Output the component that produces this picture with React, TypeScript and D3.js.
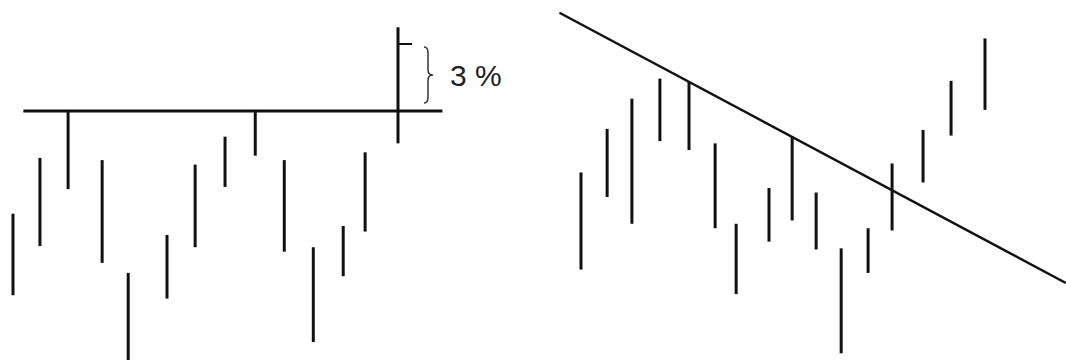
import React, { useEffect, useRef } from 'react';
import * as d3 from 'd3';

// left panel: bars testing a horizontal resistance, then a 3 % breakout
const leftDay = [0, 0.91, 1.86, 3.01, 3.89, 5.2, 6.15, 7.16, 8.18, 9.16, 10.14, 11.15, 11.89, 13];
const leftHigh = [95.4, 97.9, 100.0, 97.8, 92.75, 94.45, 97.6, 98.85, 100.0, 97.8, 93.9, 94.85, 98.15, 103.75];
const leftLow = [91.75, 93.95, 96.5, 93.2, 88.6, 91.6, 93.9, 96.6, 98.0, 93.7, 89.65, 92.6, 94.6, 98.55];
const resistance = 100;
const breakout = 103;
const resistanceSpan = [0.35, 14.5];
const breakLabel = '3 %';

// right panel: bars under a falling trendline, then a break upward
const rightDay = [0, 0.97, 1.89, 2.93, 4.01, 4.98, 5.76, 6.98, 7.84, 8.73, 9.66, 10.66, 11.55, 12.7, 13.74, 15];
const rightHigh = [97.25, 99.2, 100.55, 101.45, 101.3, 98.55, 94.95, 96.55, 98.85, 96.35, 93.85, 94.75, 97.65, 99.15, 101.35, 103.25];
const rightLow = [92.9, 96.15, 94.95, 98.65, 98.25, 94.75, 91.8, 94.15, 95.1, 93.8, 89.15, 92.75, 94.65, 96.8, 98.9, 100.05];
const trendDays = [-0.8, 18];
const trendPrices = [104.4, 92.3];

const App = () => {
  const svgRef = useRef<SVGSVGElement>(null);

  useEffect(() => {
    const width = 1066;
    const height = 360;
    const svg = d3.select(svgRef.current);
    svg.selectAll('*').remove();
    svg.attr('width', width).attr('height', height);

    const ink = '#111';

    const y = d3.scaleLinear().domain([88.85, 104.97]).range([height, 0]);
    const xL = d3.scaleLinear().domain([0, 13]).range([13, 398]);
    const xR = d3.scaleLinear().domain([0, 15]).range([581, 985]);

    const drawBars = (g, x, days, highs, lows) => {
      g.selectAll('line.bar')
        .data(highs)
        .join('line')
        .attr('class', 'bar')
        .attr('x1', (d, i) => x(days[i]))
        .attr('x2', (d, i) => x(days[i]))
        .attr('y1', d => y(d))
        .attr('y2', (d, i) => y(lows[i]))
        .attr('stroke', ink)
        .attr('stroke-width', 3);
    };

    // left
    const left = svg.append('g');
    left.append('line')
      .attr('x1', xL(resistanceSpan[0]))
      .attr('x2', xL(resistanceSpan[1]))
      .attr('y1', y(resistance))
      .attr('y2', y(resistance))
      .attr('stroke', ink)
      .attr('stroke-width', 3);
    drawBars(left, xL, leftDay, leftHigh, leftLow);

    const lastX = xL(leftDay[leftDay.length - 1]);
    left.append('line')
      .attr('x1', lastX)
      .attr('x2', lastX + 14)
      .attr('y1', y(breakout))
      .attr('y2', y(breakout))
      .attr('stroke', ink)
      .attr('stroke-width', 2);

    // curly brace between breakout and resistance
    const bx = lastX + 29;
    const top = y(breakout) + 3;
    const bot = y(resistance) - 8;
    const mid = (top + bot) / 2;
    const brace = d3.path();
    brace.moveTo(bx - 3, top);
    brace.quadraticCurveTo(bx + 1, top, bx + 1, top + 6);
    brace.lineTo(bx + 1, mid - 5);
    brace.quadraticCurveTo(bx + 1, mid, bx + 6, mid);
    brace.quadraticCurveTo(bx + 1, mid, bx + 1, mid + 5);
    brace.lineTo(bx + 1, bot - 6);
    brace.quadraticCurveTo(bx + 1, bot, bx - 3, bot);
    left.append('path')
      .attr('d', brace.toString())
      .attr('fill', 'none')
      .attr('stroke', '#333')
      .attr('stroke-width', 1.5);

    left.append('text')
      .attr('x', bx + 23)
      .attr('y', mid + 11)
      .attr('font-family', 'Liberation Sans, Arial, sans-serif')
      .attr('font-size', 30)
      .attr('fill', '#222')
      .text(breakLabel);

    // right
    const right = svg.append('g');
    const trend = d3.line<number>()
      .x(d => xR(d))
      .y((d, i) => y(trendPrices[i]));
    right.append('path')
      .datum(trendDays)
      .attr('d', trend)
      .attr('fill', 'none')
      .attr('stroke', ink)
      .attr('stroke-width', 2.5);
    drawBars(right, xR, rightDay, rightHigh, rightLow);
  }, []);

  return <svg ref={svgRef} style={{ position: 'absolute', left: 0, top: 0, background: '#fff' }}></svg>;
};

export default App;
